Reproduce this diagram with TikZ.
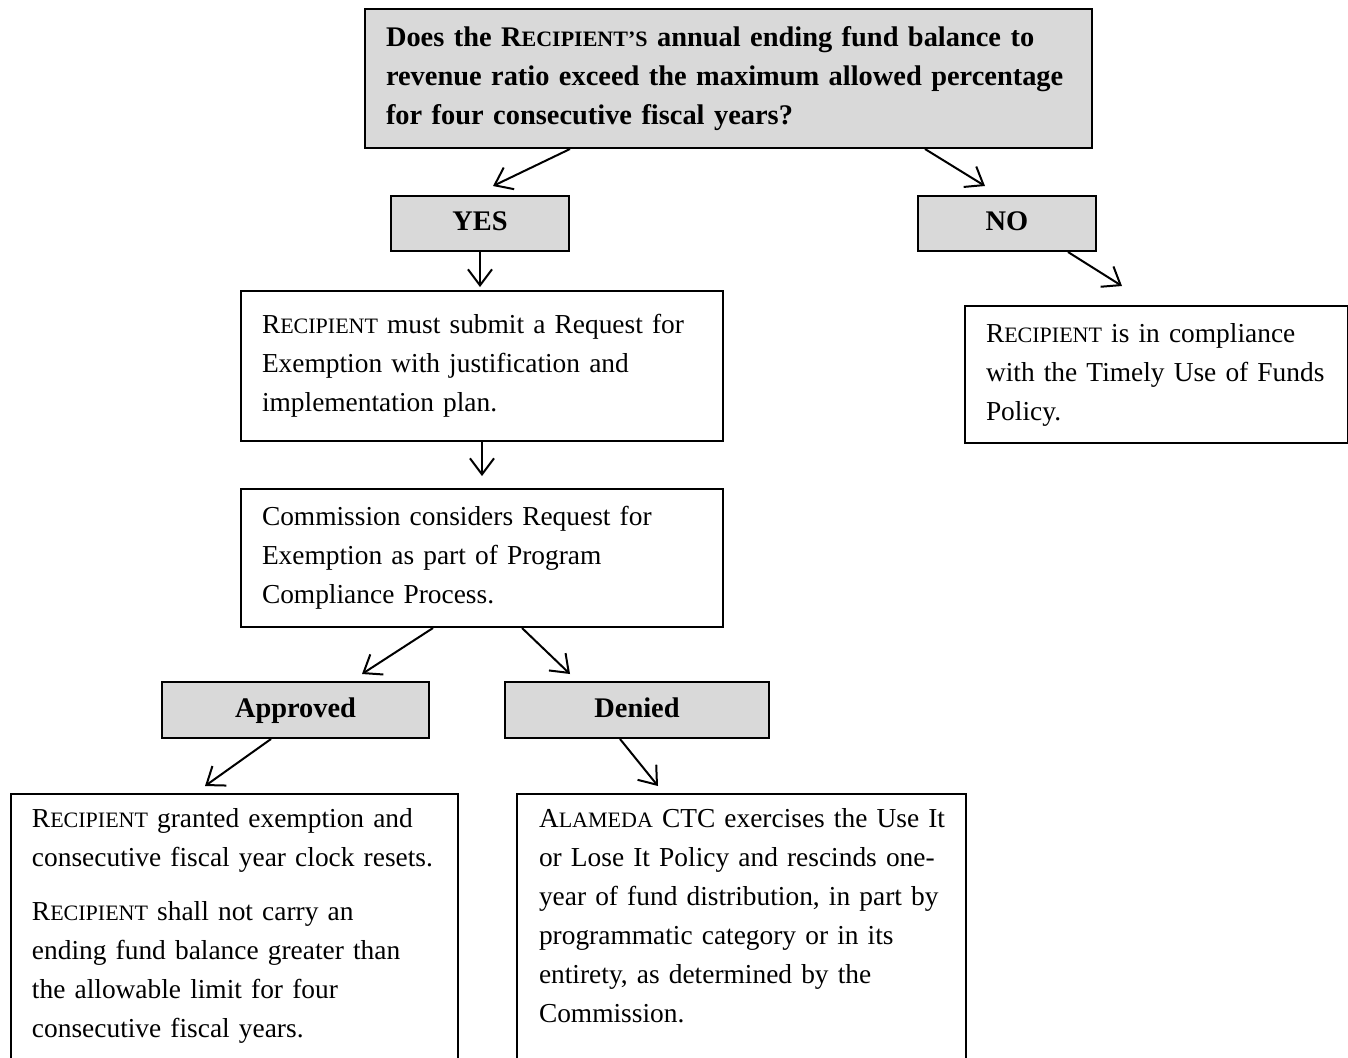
\documentclass[tikz,border=0pt]{standalone}
\usepackage{fontspec}
\setmainfont{Liberation Serif}
\usetikzlibrary{arrows.meta,calc}
\definecolor{boxgray}{HTML}{D9D9D9}
\newcommand\fsc[1]{{\fontsize{11}{19.5}\selectfont #1}}

\begin{document}
\begin{tikzpicture}[x=0.5pt,y=-0.5pt,
    box/.style={draw,line width=1pt,anchor=north west,align=left,inner xsep=10.5pt,inner ysep=0pt,font=\fontsize{13.7}{19.5}\selectfont},
    grey/.style={box,fill=boxgray,align=center,minimum width=89pt,minimum height=27.5pt,text height=10pt,text depth=3pt,font=\fontsize{14.2}{19.5}\selectfont\bfseries},
    arr/.style={line width=1pt,-{Straight Barb[length=8pt,width=12pt]}}]
  \useasboundingbox (0,0) rectangle (1348,1057);
  \node[box,fill=boxgray,text width=342.5pt,minimum height=69.5pt,font=\fontsize{14.2}{19.5}\selectfont\bfseries] (q) at (364,8)
    {Does the R\fsc{ECIPIENT’S} annual ending fund balance to\\ revenue ratio exceed the maximum allowed percentage\\ for four consecutive fiscal years?};
  \node[grey] (yes) at (390,195) {YES};
  \node[grey] (no) at (917,195) {NO};
  \node[box,text width=220pt,minimum height=75pt] (req) at (240,290)
    {R\fsc{ECIPIENT} must submit a Request for\\ Exemption with justification and\\ implementation plan.};
  \node[box,text width=170.5pt,minimum height=68.5pt] (comp) at (964,305)
    {R\fsc{ECIPIENT} is in compliance\\ with the Timely Use of Funds\\ Policy.};
  \node[box,text width=220pt,minimum height=69pt] (com) at (240,488)
    {Commission considers Request for\\ Exemption as part of Program\\ Compliance Process.};
  \node[grey,minimum width=133.5pt,minimum height=28pt] (appr) at (161,681) {Approved};
  \node[grey,minimum width=132pt,minimum height=28pt] (den) at (504,681) {Denied};
  \node[box,text width=202.5pt,inner ysep=7pt,text depth=140pt] (grant) at (10,793)
    {R\fsc{ECIPIENT} granted exemption and\\ consecutive fiscal year clock resets.\\[7.5pt]
     R\fsc{ECIPIENT} shall not carry an\\ ending fund balance greater than\\ the allowable limit for four\\ consecutive fiscal years.};
  \node[box,text width=202.5pt,inner xsep=11pt,inner ysep=7pt,text depth=140pt] (resc) at (516,793)
    {\mbox{A\fsc{LAMEDA} CTC exercises the Use It}\\ or Lose It Policy and rescinds one-\\ year of fund distribution, in part by\\ programmatic category or in its\\ entirety, as determined by the\\ Commission.};

  \draw[arr] ($(q.south west)+(206,0)$) -- ($(yes.north west)+(103,-9)$);
  \draw[arr] ($(q.south west)+(561,0)$) -- ($(no.north west)+(68,-9)$);
  \draw[arr,shorten >=1.5pt] (yes.south) -- (yes.south |- req.north);
  \draw[arr] ($(no.south west)+(151,0)$) -- ($(comp.north west)+(158,-19)$);
  \draw[arr,shorten >=6pt] (req.south) -- (com.north);
  \draw[arr] ($(com.south west)+(193,0)$) -- ($(appr.north west)+(201,-7)$);
  \draw[arr] ($(com.south west)+(282,0)$) -- ($(den.north west)+(66,-7)$);
  \draw[arr] ($(appr.south west)+(110,0)$) -- ($(grant.north west)+(195,-7)$);
  \draw[arr] ($(den.south west)+(116,0)$) -- ($(resc.north west)+(142,-7)$);
\end{tikzpicture}
\end{document}
